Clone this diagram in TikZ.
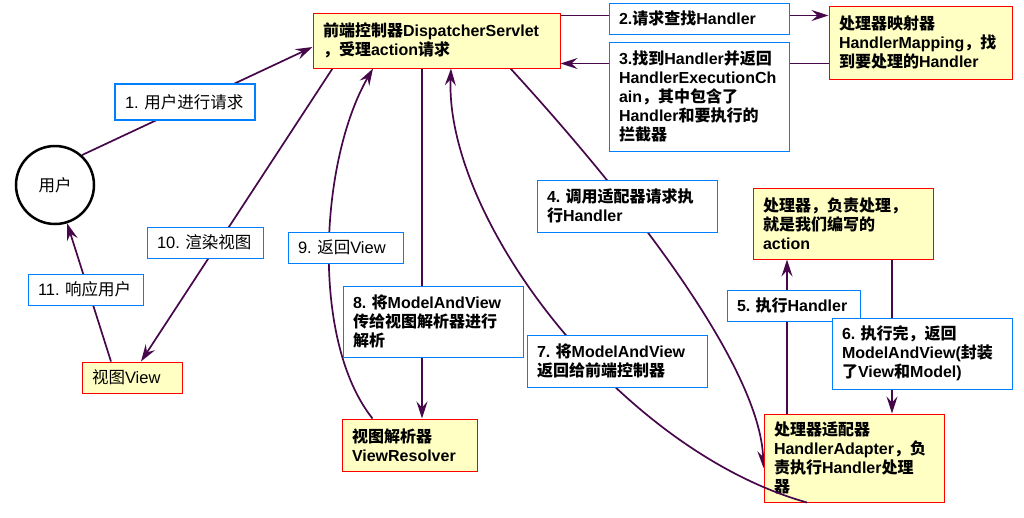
\documentclass[tikz,border=0pt]{standalone}
\usepackage{fontspec}
\setmainfont{Liberation Sans}
\newfontfamily\cjk{Noto Sans CJK SC}
\usetikzlibrary{arrows.meta,calc}
\newcommand\zh[1]{{\cjk #1}}
\definecolor{arrc}{RGB}{70,8,74}
\definecolor{boxfill}{RGB}{255,255,196}
\definecolor{boxred}{RGB}{255,0,0}
\definecolor{lblblue}{RGB}{0,128,255}
\pgfdeclarelayer{bg}
\pgfsetlayers{bg,main}
\tikzset{
  base/.style={rectangle, inner xsep=10pt, inner ysep=2pt, align=left},
  comp/.style={base, draw=boxred, fill=boxfill, line width=1pt, font=\fontsize{16}{19}\selectfont\bfseries},
  compr/.style={base, draw=boxred, fill=boxfill, line width=1pt, font=\fontsize{16}{19}\selectfont},
  lbl/.style={base, draw=lblblue, fill=white, line width=1pt, font=\fontsize{16}{19}\selectfont\bfseries},
  lblr/.style={base, draw=lblblue, fill=white, line width=1pt, font=\fontsize{16.5}{19}\selectfont},
  conn/.style={draw=arrc, line width=1.7pt, -{Stealth[length=17pt,width=11pt,inset=6pt]}},
  plain/.style={draw=arrc, line width=1.7pt},
}
\begin{document}
\begin{tikzpicture}[x=1pt,y=-1pt]
\useasboundingbox (0,0) rectangle (1024,517);
\begin{pgfonlayer}{bg}
\fill[white] (0,0) rectangle (1024,517);
\end{pgfonlayer}

% components
\node[comp, text width=227pt, minimum height=55pt] (ds) at (436.5,40.5)
  {\zh{前端控制器}DispatcherServlet\\\zh{，受理}action\zh{请求}};
\node[circle, draw=black, line width=2.5pt, minimum size=78pt, inner sep=0pt, font=\fontsize{16.5}{19}\selectfont] (user) at (55,185) {\zh{用户}};
\node[comp, text width=163pt, minimum height=73pt] (hm) at (920.5,42.5)
  {\zh{处理器映射器}\\HandlerMapping\zh{，找}\\\zh{到要处理的}Handler};
\node[comp, text width=160pt, minimum height=71pt] (h) at (843,223.5)
  {\zh{处理器，负责处理，}\\\zh{就是我们编写的}\\action};
\node[comp, text width=160pt, minimum height=88pt] (ha) at (854,458)
  {\zh{处理器适配器}\\HandlerAdapter\zh{，负}\\\zh{责执行}Handler\zh{处理}\\\zh{器}};
\node[comp, text width=115pt, minimum height=52pt] (vr) at (409.5,445)
  {\zh{视图解析器}\\ViewResolver};
\node[compr, font=\fontsize{16.5}{19}\selectfont, text width=80pt, minimum height=31pt] (view) at (132,377.5)
  {\zh{视图}View};

% labels
\node[lblr, line width=2pt, text width=120pt, minimum height=36pt] (l1) at (185,102) {1.~\zh{用户进行请求}};
\node[lbl, text width=160pt, minimum height=31pt] (l2) at (699,18.5) {2.\zh{请求查找}Handler};
\node[lbl, text width=160pt, minimum height=109pt] (l3) at (699,96.5)
  {3.\zh{找到}Handler\zh{并返回}\\HandlerExecutionCh\\ain\zh{，其中包含了}\\Handler\zh{和要执行的}\\\zh{拦截器}};
\node[lbl, text width=160pt, minimum height=52pt] (l4) at (627,206)
  {4.~\zh{调用适配器请求执}\\\zh{行}Handler};
\node[lbl, text width=113pt, minimum height=31pt] (l5) at (793.5,305.5) {5.~\zh{执行}Handler};
\node[lbl, text width=160pt, minimum height=71pt] (l6) at (922,353.5)
  {6.~\zh{执行完，返回}\\ModelAndView(\zh{封装}\\\zh{了}View\zh{和}Model)};
\node[lbl, text width=160pt, minimum height=52pt] (l7) at (617,361)
  {7.~\zh{将}ModelAndView\\\zh{返回给前端控制器}};
\node[lbl, text width=160pt, minimum height=71pt] (l8) at (433,321.5)
  {8.~\zh{将}ModelAndView\\\zh{传给视图解析器进行}\\\zh{解析}};
\node[lblr, text width=95pt, minimum height=31pt] (l9) at (345.5,247.5) {9.~\zh{返回}View};
\node[lblr, text width=96pt, minimum height=31pt] (l10) at (205,242.5) {10.~\zh{渲染视图}};
\node[lblr, text width=95pt, minimum height=31pt] (l11) at (85.5,289.5) {11.~\zh{响应用户}};

% helper coordinates
\coordinate (c1e) at ([yshift=-6.5pt]ds.west);
\coordinate (c2a) at ([yshift=-3pt]ds.north east);
\coordinate (c3e) at ([yshift=5pt]ds.south east);
\coordinate (c4s) at ([xshift=-50pt]ds.south east);
\coordinate (c4e) at ([yshift=-10pt]ha.west);
\coordinate (x5) at (787,0);
\coordinate (x6) at (892,0);
\coordinate (c7s) at ([xshift=-47pt]ha.south);
\coordinate (c7e) at ([xshift=14.5pt]ds.south);
\coordinate (x8) at (422,0);
\coordinate (c9s) at ([xshift=31pt]vr.north west);
\coordinate (c9e) at ([xshift=-63.5pt]ds.south);
\coordinate (c10s) at ([xshift=20pt]ds.south west);
\coordinate (c10e) at ([xshift=9pt]view.north);
\coordinate (c11s) at ([xshift=-21pt]view.north);

\begin{pgfonlayer}{bg}
\draw[conn] (user.48) -- (c1e);
\draw[conn] (c2a) -- (c2a -| hm.west);
\draw[conn] (c3e -| hm.west) -- (c3e);
\draw[conn] (c4s) .. controls (640,210) and (760,370) .. (c4e);
\draw[conn] (x5 |- ha.north) -- (x5 |- h.south);
\draw[conn] (x6 |- h.south) -- (x6 |- ha.north);
\draw[conn] (c7s) .. controls (620,450) and (445,220) .. (c7e);
\draw[conn] (x8 |- ds.south) -- (x8 |- vr.north);
\draw[conn] (c9s) .. controls (310,340) and (320,160) .. (c9e);
\draw[conn] (c10s) -- (c10e);
\draw[conn] (c11s) -- (user);
\end{pgfonlayer}

% part of connector 7 that runs over the adapter box
\begin{scope}
\clip (ha.south west) rectangle (ha.north east);
\draw[plain] (c7s) .. controls (620,450) and (445,220) .. (c7e);
\end{scope}
\end{tikzpicture}
\end{document}
